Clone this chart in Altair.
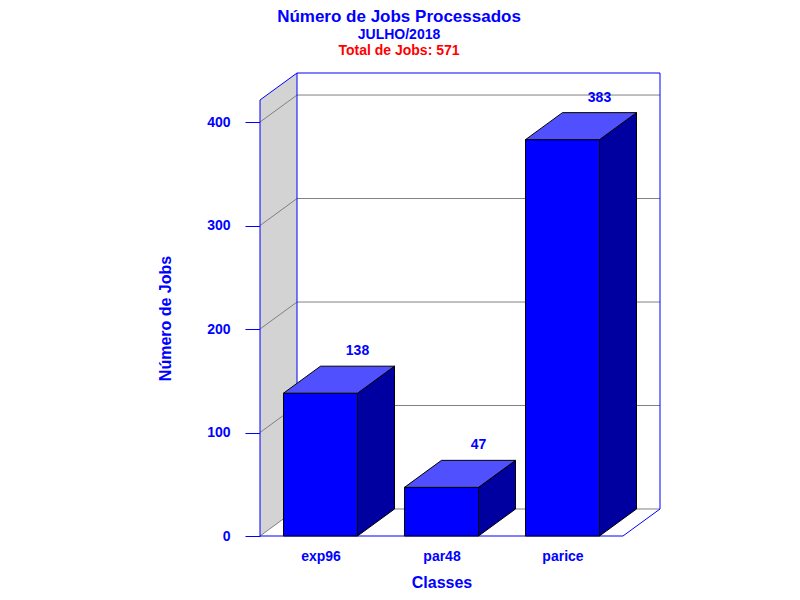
import altair as alt
import pandas as pd

# ---- data ----
classes = ["exp96", "par48", "parice"]
jobs = [138, 47, 383]
y_ticks = [0, 100, 200, 300, 400]
title_text = "Número de Jobs Processados"
subtitle_text = "JULHO/2018"
total_text = "Total de Jobs: 571"
y_title = "Número de Jobs"
x_title = "Classes"

# ---- style / 3D geometry (in scale units) ----
FONT = "Liberation Sans"
BLUE = "#0000FF"
TOP = "#5050FF"
SIDE = "#0000A0"
WALL = "#D3D3D3"
GRID = "#808080"
W, H = 400, 463
X0 = -0.5
XN = len(classes) - 0.5
D = 0.3058     # depth offset along x
E = 26.1       # depth offset along y
YMAX = 421.3   # top of front plane
HW = 0.3058    # half bar width

xscale = alt.Scale(domain=[X0, XN + D], nice=False, zero=False)
yscale = alt.Scale(domain=[0, YMAX + E], nice=False, zero=False)

label_expr = "[" + ",".join(f"'{c}'" for c in classes) + "][datum.value]"

x_axis = alt.Axis(values=list(range(len(classes))), labelExpr=label_expr,
                  ticks=False, tickSize=0, domain=False, grid=False,
                  labelPadding=13, labelFont=FONT, labelFontSize=14,
                  labelFontWeight="bold", labelColor=BLUE, labelOverlap=False,
                  labelFlush=False,
                  title=x_title, titleFont=FONT, titleFontSize=16,
                  titleFontWeight="bold", titleColor=BLUE,
                  titleX=181.5, titleY=46, titleBaseline="middle")
y_axis = alt.Axis(values=y_ticks, tickSize=15, tickColor=BLUE, tickWidth=1,
                  domain=False, grid=False, labelPadding=15, labelFont=FONT,
                  labelFontSize=14, labelFontWeight="bold", labelColor=BLUE,
                  title=y_title, titleFont=FONT, titleFontSize=16,
                  titleFontWeight="bold", titleColor=BLUE, titleAngle=-90,
                  titleX=-95, titleY=245, titleBaseline="middle",
                  titleAlign="center")


def X(f="x"):
    return alt.X(f"{f}:Q", scale=xscale, axis=x_axis, stack=None)


def Y(f="y"):
    return alt.Y(f"{f}:Q", scale=yscale, axis=y_axis, stack=None)


# left wall
wall_df = pd.DataFrame({"x": [X0, X0 + D], "y": [0, E], "y2": [YMAX, YMAX + E]})
wall = alt.Chart(wall_df).mark_area(color=WALL, orient="vertical").encode(
    x=X(), y=Y(), y2="y2:Q")

# gridlines (left wall diagonal + back wall)
grid_rows = []
for v in y_ticks:
    grid_rows += [
        {"g": v, "o": 0, "x": X0, "y": v},
        {"g": v, "o": 1, "x": X0 + D, "y": v + E},
        {"g": v, "o": 2, "x": XN + D, "y": v + E},
    ]
grid = alt.Chart(pd.DataFrame(grid_rows)).mark_line(color=GRID, strokeWidth=1).encode(
    x=X(), y=Y(), detail="g:N", order="o:Q")

# blue frame
frame_rows = []
path1 = [(X0, 0), (X0, YMAX), (X0 + D, YMAX + E), (XN + D, YMAX + E),
         (XN + D, E), (XN, 0), (X0, 0)]
path2 = [(X0 + D, E), (X0 + D, YMAX + E)]
for gi, p in enumerate([path1, path2]):
    for oi, (px, py) in enumerate(p):
        frame_rows.append({"g": gi, "o": oi, "x": px, "y": py})
frame = alt.Chart(pd.DataFrame(frame_rows)).mark_line(color=BLUE, strokeWidth=1).encode(
    x=X(), y=Y(), detail="g:N", order="o:Q")

# bars
front_df = pd.DataFrame({
    "c": classes,
    "x": [i - HW for i in range(len(classes))],
    "x2": [i + HW for i in range(len(classes))],
    "y": [0] * len(classes),
    "y2": jobs,
})
front = alt.Chart(front_df).mark_bar(color=BLUE, stroke="black", strokeWidth=1).encode(
    x=X(), x2="x2:Q", y=Y(), y2="y2:Q")

side_rows, top_rows = [], []
for i, v in enumerate(jobs):
    side_rows += [
        {"b": i, "x": i + HW, "y": 0, "y2": v},
        {"b": i, "x": i + HW + D, "y": E, "y2": v + E},
    ]
    top_rows += [
        {"b": i, "y": v, "x": i - HW, "x2": i + HW},
        {"b": i, "y": v + E, "x": i - HW + D, "x2": i + HW + D},
    ]
side = alt.Chart(pd.DataFrame(side_rows)).mark_area(
    color=SIDE, stroke="black", strokeWidth=1, orient="vertical").encode(
    x=X(), y=Y(), y2="y2:Q", detail="b:N")
top = alt.Chart(pd.DataFrame(top_rows)).mark_area(
    color=TOP, stroke="black", strokeWidth=1, orient="horizontal").encode(
    x=X(), x2="x2:Q", y=Y(), detail="b:N")

lab_df = pd.DataFrame({
    "x": [i + D for i in range(len(classes))],
    "y": [v + E for v in jobs],
    "t": [str(v) for v in jobs],
})
labels = alt.Chart(lab_df).mark_text(
    font=FONT, fontSize=14, fontWeight="bold", color=BLUE, dy=-11,
    baseline="alphabetic", align="center").encode(x=X(), y=Y(), text="t:N")

total = alt.Chart(pd.DataFrame({"t": [total_text]})).mark_text(
    font=FONT, fontSize=14, fontWeight="bold", color="#FF0000",
    baseline="alphabetic", align="center").encode(
    x=alt.value(139), y=alt.value(-18), text="t:N")

chart = alt.layer(wall, grid, frame, front, side, top, labels, total).properties(
    width=W, height=H,
    padding={"left": 252, "top": 65, "right": 130, "bottom": 56},
    autosize=alt.AutoSizeParams(type="none"),
    title=alt.TitleParams(
        text=title_text, subtitle=subtitle_text,
        font=FONT, fontSize=17, fontWeight="bold", color=BLUE,
        subtitleFont=FONT, subtitleFontSize=14, subtitleFontWeight="bold",
        subtitleColor=BLUE, subtitlePadding=2,
        anchor="middle", dx=-61, offset=1),
).configure_view(stroke=None)

chart.save("out.html", embed_options={"renderer": "svg", "actions": False})
